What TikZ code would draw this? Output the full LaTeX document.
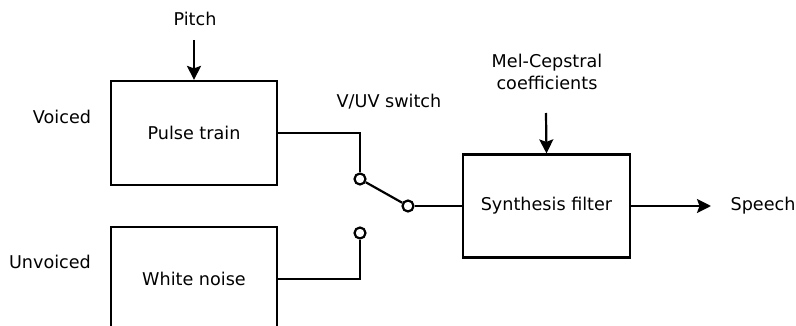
\documentclass[tikz,border=0pt]{standalone}
\usepackage{fontspec}
\setmainfont{DejaVu Sans}
\usetikzlibrary{arrows.meta}
\begin{document}
\begin{tikzpicture}[x=1pt,y=-1pt,
 blk/.style={draw,line width=2.2pt,minimum width=166pt,minimum height=104pt,inner sep=0pt,font=\fontsize{17.6}{21}\selectfont},
 lbl/.style={inner sep=0pt,font=\fontsize{17.6}{22}\selectfont,align=center},
 term/.style={circle,draw,fill=white,line width=2.2pt,minimum size=11pt,inner sep=0pt},
 wire/.style={line width=2.2pt},
 arr/.style={line width=2.2pt,-{Stealth[length=14pt,width=14pt,inset=2.5pt]}}]
\useasboundingbox (0,0) rectangle (796,326);
\clip (0,0) rectangle (796,326);
\node[blk] (pulse) at (194,133) {Pulse train};
\node[blk] (noise) at (194,279) {White noise};
\node[blk,minimum width=167pt,minimum height=103pt] (synth) at (546.5,206) {Synthesis filter};
\node[lbl] (pitch) at (195,19) {Pitch};
\node[lbl] (voiced) at (62,117) {Voiced};
\node[lbl] (unvoiced) at (50,262) {Unvoiced};
\node[lbl] (vuv) at (389,102) {V/UV switch};
\node[lbl] (mel) at (547,72) {Mel-Cepstral\\coefficients};
\node[lbl] (speech) at (763,206) {Speech};
\node[term] (t1) at (360,179) {};
\node[term] (t2) at (360,233) {};
\node[term] (t3) at (408,206) {};
\coordinate (pitchstart) at (194,40);
\coordinate (melstart) at (546,113);
\coordinate (out) at (711,206);
\draw[arr] (pitchstart) -- (pulse.north);
\draw[arr] (melstart) -- (synth.north);
\draw[wire] (pulse.east) -| (t1);
\draw[wire] (noise.east) -| (t2);
\draw[wire] (t1) -- (t3);
\draw[wire] (t3) -- (synth.west);
\draw[arr] (synth.east) -- (out);
\end{tikzpicture}
\end{document}
